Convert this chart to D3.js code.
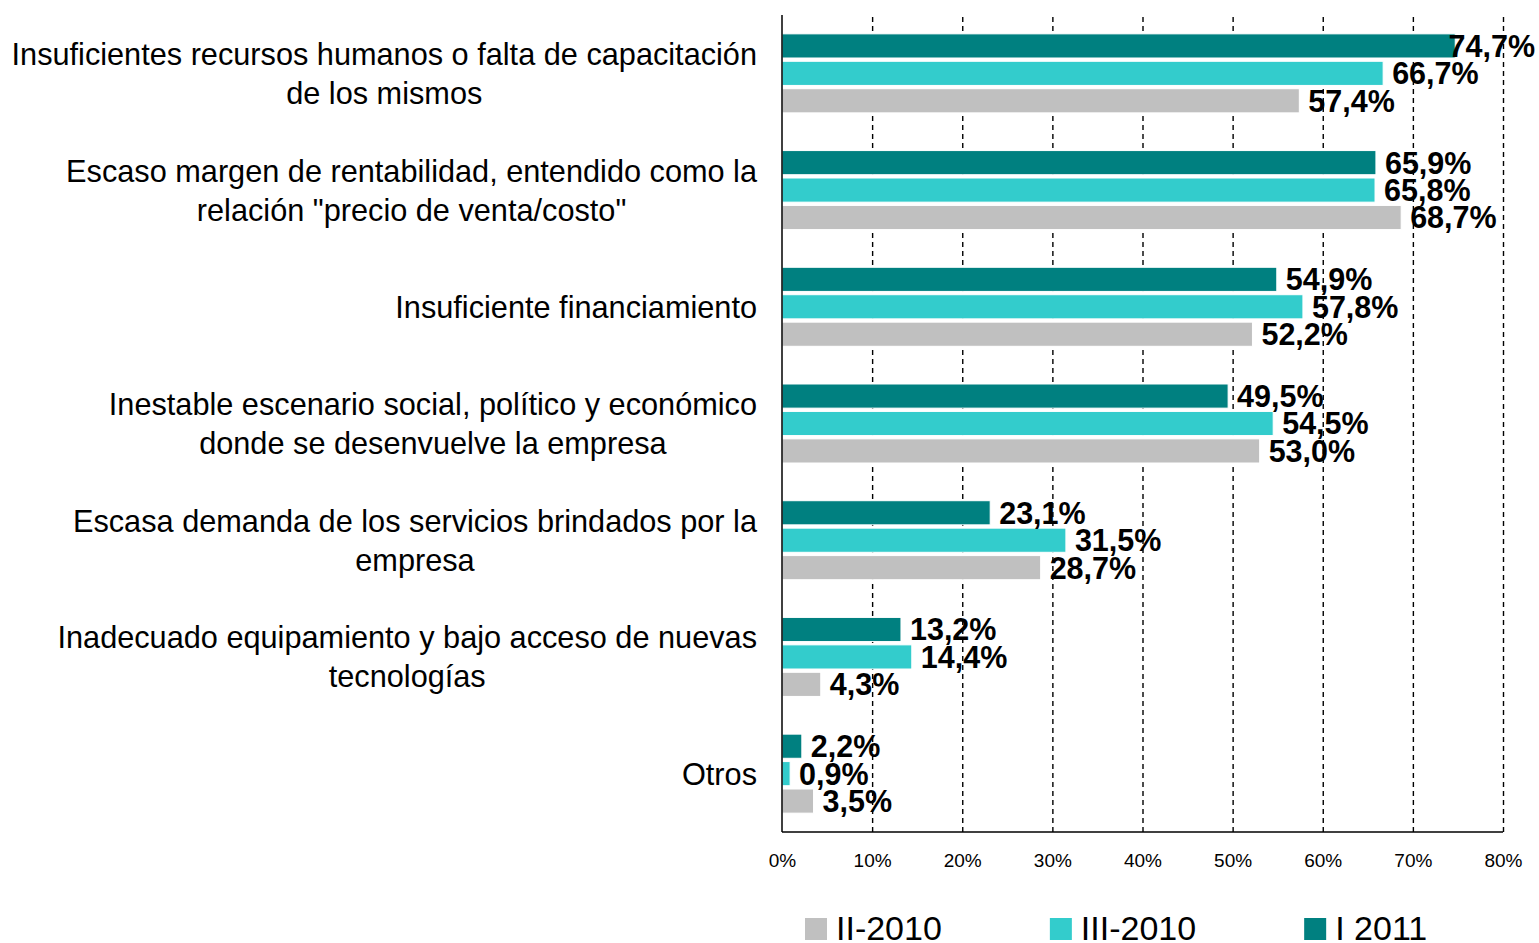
<!DOCTYPE html>
<html lang="es">
  <head>
    <meta charset="UTF-8" />
    <title>Factores que limitan</title>
    <script src="https://d3js.org/d3.v7.min.js"></script>
    <style>
      body { margin: 0; background: #fff; }
      svg { display: block; font-family: "Liberation Sans", Arial, sans-serif; }
    </style>
  </head>
  <body>
    <div id="chart"></div>
    <script>
      // categories (one array per label, lines split as in the picture)
      const categories = [
        ["Insuficientes recursos humanos o falta de capacitación", "de los mismos"],
        ["Escaso margen de rentabilidad, entendido como la", "relación \"precio de venta/costo\""],
        ["Insuficiente financiamiento"],
        ["Inestable escenario social, político y económico", "donde se desenvuelve la empresa"],
        ["Escasa demanda de los servicios brindados por la", "empresa"],
        ["Inadecuado equipamiento y bajo acceso de nuevas", "tecnologías"],
        ["Otros"]
      ];
      const seriesNames = ["I 2011", "III-2010", "II-2010"];
      const valuesI2011 = [74.7, 65.9, 54.9, 49.5, 23.1, 13.2, 2.2];
      const valuesIII2010 = [66.7, 65.8, 57.8, 54.5, 31.5, 14.4, 0.9];
      const valuesII2010 = [57.4, 68.7, 52.2, 53.0, 28.7, 4.3, 3.5];
      const legendOrder = ["II-2010", "III-2010", "I 2011"];
      const xTicks = [0, 10, 20, 30, 40, 50, 60, 70, 80];

      const seriesValues = {
        "I 2011": valuesI2011,
        "III-2010": valuesIII2010,
        "II-2010": valuesII2010
      };
      const colors = { "I 2011": "#008080", "III-2010": "#33cccc", "II-2010": "#c0c0c0" };

      const W = 1539, H = 943;
      const plot = { left: 782, right: 1503, top: 15, bottom: 832 };

      const svg = d3.select("#chart").append("svg")
        .attr("width", W).attr("height", H);

      const x = d3.scaleLinear().domain([0, 80]).range([plot.left, plot.right]);
      const y = d3.scaleBand()
        .domain(d3.range(categories.length))
        .range([plot.top, plot.bottom])
        .paddingInner(0.323)
        .paddingOuter(0.1615);
      const ySub = d3.scaleBand()
        .domain(seriesNames)
        .range([0, y.bandwidth()])
        .paddingInner(0.12);

      // dashed grid
      svg.append("g")
        .attr("transform", `translate(0,${plot.bottom})`)
        .call(d3.axisBottom(x).tickValues(xTicks.slice(1)).tickSize(-(plot.bottom - plot.top)).tickFormat(""))
        .call(g => g.select(".domain").remove())
        .call(g => g.selectAll("line")
          .attr("stroke", "#000")
          .attr("stroke-width", 1.4)
          .attr("stroke-dasharray", "5,4"));

      // bars
      const fmt = v => d3.format(".1f")(v).replace(".", ",") + "%";
      seriesNames.forEach(s => {
        const g = svg.append("g");
        g.selectAll("rect")
          .data(seriesValues[s])
          .join("rect")
          .attr("x", x(0))
          .attr("y", (d, i) => y(i) + ySub(s))
          .attr("width", d => x(d) - x(0))
          .attr("height", ySub.bandwidth())
          .attr("fill", colors[s])
          .attr("stroke", "#fff")
          .attr("stroke-width", 1);
      });

      // value labels (pushed back inside the picture when they would run off the right edge)
      seriesNames.forEach(s => {
        svg.append("g").selectAll("text")
          .data(seriesValues[s])
          .join("text")
          .attr("y", (d, i) => y(i) + ySub(s) + ySub.bandwidth() / 2)
          .attr("dy", "0.36em")
          .attr("font-size", 30.5)
          .attr("font-weight", "bold")
          .attr("fill", "#000")
          .text(fmt)
          .attr("x", function (d) {
            const w = this.getComputedTextLength();
            return Math.min(x(d) + 9, W - 4 - w);
          });
      });

      // axes lines
      svg.append("line")
        .attr("x1", plot.left).attr("x2", plot.left)
        .attr("y1", plot.top).attr("y2", plot.bottom)
        .attr("stroke", "#000").attr("stroke-width", 1.5);
      svg.append("line")
        .attr("x1", plot.left).attr("x2", plot.right)
        .attr("y1", plot.bottom).attr("y2", plot.bottom)
        .attr("stroke", "#000").attr("stroke-width", 1.5);

      // tick labels
      svg.append("g")
        .attr("transform", `translate(0,${plot.bottom})`)
        .call(d3.axisBottom(x).tickValues(xTicks).tickSize(0).tickPadding(22).tickFormat(d => d + "%"))
        .call(g => g.select(".domain").remove())
        .call(g => g.selectAll("text")
          .attr("font-size", 19)
          .attr("font-family", "Liberation Sans, Arial, sans-serif")
          .attr("fill", "#000"));

      // category labels: block right-aligned, lines centred within the block
      const labelRight = 757, lineH = 39;
      categories.forEach((lines, i) => {
        const g = svg.append("g");
        const texts = lines.map(l => g.append("text")
          .attr("font-size", 30.7)
          .attr("fill", "#000")
          .attr("text-anchor", "middle")
          .text(l));
        const maxW = d3.max(texts, t => t.node().getComputedTextLength());
        const cx = labelRight - maxW / 2;
        const cy = y(i) + y.bandwidth() / 2;
        texts.forEach((t, k) => {
          t.attr("x", cx)
            .attr("y", cy + (k - (lines.length - 1) / 2) * lineH)
            .attr("dy", "0.36em");
        });
      });

      // legend
      const legend = svg.append("g");
      let lx = 805;
      const legendBase = 940, sq = 22;
      legendOrder.forEach(s => {
        legend.append("rect")
          .attr("x", lx).attr("y", legendBase - sq)
          .attr("width", sq).attr("height", sq)
          .attr("fill", colors[s]);
        const t = legend.append("text")
          .attr("x", lx + sq + 9)
          .attr("y", legendBase)
          .attr("font-size", 34)
          .attr("fill", "#000")
          .text(s);
        lx += sq + 9 + t.node().getComputedTextLength() + 108;
      });
    </script>
  </body>
</html>
